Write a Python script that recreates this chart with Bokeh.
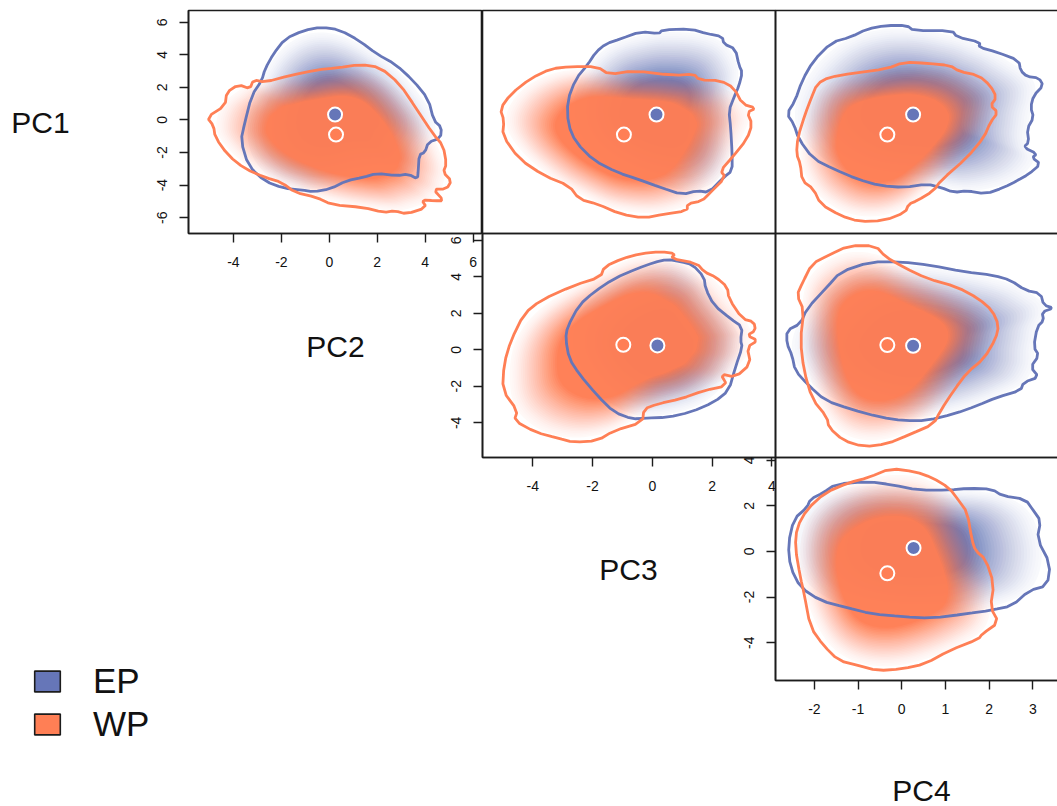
from bokeh.plotting import figure
from bokeh.models import Column, FixedTicker, Label, Legend, LegendItem
from bokeh.embed import file_html
from bokeh.resources import INLINE

# ---- outlines, (x, y) in axis units ----
ep_pc2_pc1 = [(-0.32,5.70),(0.44,5.53),(1.28,4.84),(1.97,4.06),(2.74,3.44),(3.50,2.42),(4.13,1.29),(4.36,-0.04),(4.68,-0.45),(4.64,-1.11),(4.13,-1.37),(3.99,-1.99),(3.75,-2.13),(3.71,-3.11),(3.68,-3.63),(3.29,-3.32),(2.81,-3.42),(1.97,-3.28),(1.42,-3.52),(0.72,-3.73),(0.03,-4.24),(-0.67,-4.41),(-1.15,-4.30),(-1.92,-4.18),(-2.68,-3.77),(-3.38,-2.81),(-3.69,-1.27),(-3.54,-0.25),(-3.24,1.50),(-2.82,2.42),(-2.68,3.14),(-2.33,4.06),(-1.85,4.98),(-1.08,5.49)]
wp_pc2_pc1 = [(-5.11,0.16),(-4.35,0.88),(-4.28,1.70),(-3.79,2.17),(-3.31,1.91),(-3.17,2.46),(-2.68,2.32),(-1.64,2.73),(-0.53,3.07),(0.31,3.20),(1.28,3.40),(2.11,3.24),(2.94,2.21),(3.64,0.68),(4.33,-0.86),(4.75,-1.58),(4.89,-2.70),(4.75,-3.22),(5.10,-3.73),(4.89,-4.24),(4.33,-4.24),(4.78,-4.96),(4.40,-4.96),(3.85,-4.90),(4.06,-5.37),(3.22,-5.78),(2.74,-5.57),(2.25,-5.68),(1.42,-5.37),(0.10,-5.20),(-0.53,-4.75),(-1.43,-4.45),(-1.99,-3.83),(-2.68,-3.52),(-3.51,-3.01),(-4.21,-2.19),(-4.76,-1.07),(-4.83,-0.35)]
ep_pc3_pc1 = [(-2.17,3.38),(-1.89,4.16),(-1.56,4.67),(-1.06,4.98),(-0.39,5.43),(0.22,5.29),(0.33,5.53),(1.28,5.59),(1.84,5.29),(2.34,5.12),(2.39,4.67),(2.78,4.36),(2.90,3.34),(3.01,2.93),(2.90,2.11),(2.73,1.39),(2.56,0.57),(2.62,-0.45),(2.67,-2.09),(2.67,-3.11),(2.39,-3.52),(1.89,-4.45),(1.50,-4.34),(1.00,-4.59),(0.28,-4.14),(-0.50,-3.63),(-1.17,-3.22),(-1.95,-2.50),(-2.56,-1.37),(-2.82,-0.25),(-2.84,1.19),(-2.56,2.52)]
wp_pc3_pc1 = [(-5.09,0.68),(-4.73,1.60),(-4.06,2.56),(-3.40,3.14),(-2.73,3.28),(-1.84,3.28),(-1.45,2.79),(-0.61,3.03),(0.72,2.73),(1.39,2.83),(1.56,2.46),(2.28,2.42),(2.73,1.97),(3.01,0.98),(3.47,0.72),(3.17,0.47),(3.34,-0.25),(3.17,-1.17),(2.67,-2.30),(2.28,-3.11),(2.45,-3.52),(1.89,-4.55),(1.67,-4.96),(1.17,-5.16),(1.17,-5.57),(0.39,-5.78),(-0.28,-6.02),(-1.06,-5.78),(-1.84,-5.16),(-2.45,-4.86),(-2.78,-4.04),(-3.62,-3.42),(-4.45,-2.40),(-5.01,-0.96),(-4.96,-0.04)]
ep_pc4_pc1 = [(-0.37,5.80),(0.12,5.80),(0.27,5.49),(1.15,5.49),(1.27,5.08),(1.80,4.77),(1.76,4.47),(2.18,4.16),(2.68,3.65),(2.72,3.03),(2.87,2.66),(3.14,2.58),(3.24,2.11),(3.02,1.50),(2.95,0.78),(3.02,0.16),(2.87,-0.55),(2.91,-1.37),(2.79,-1.68),(3.10,-2.09),(2.98,-2.30),(3.18,-2.70),(2.91,-3.32),(2.64,-3.73),(2.34,-4.14),(1.92,-4.55),(1.50,-4.34),(1.19,-4.45),(0.89,-4.14),(0.58,-3.93),(0.05,-4.14),(-0.49,-4.04),(-1.02,-3.63),(-1.56,-3.01),(-2.02,-2.40),(-2.36,-1.17),(-2.47,-0.25),(-2.63,0.37),(-2.44,1.19),(-2.28,2.42),(-2.02,3.65),(-1.60,4.77),(-1.18,5.08),(-0.79,5.59)]
wp_pc4_pc1 = [(0.05,3.55),(0.58,3.48),(1.11,3.34),(1.31,2.99),(1.76,2.73),(2.03,2.11),(2.17,1.39),(2.03,0.88),(2.20,0.47),(2.03,-0.14),(1.88,-1.07),(1.50,-2.30),(0.89,-3.73),(0.73,-4.34),(0.35,-4.96),(0.16,-5.16),(0.08,-5.68),(-0.41,-6.19),(-0.98,-6.23),(-1.40,-5.88),(-1.86,-5.16),(-2.02,-4.24),(-2.28,-3.73),(-2.32,-2.70),(-2.41,-2.09),(-2.38,-1.07),(-2.21,0.37),(-2.08,1.29),(-1.94,2.21),(-1.67,2.62),(-1.10,2.87),(-0.34,3.14)]
ep_pc3_pc2 = [(0.50,4.96),(0.95,4.82),(1.34,4.67),(1.73,3.99),(1.78,3.35),(2.06,2.44),(2.62,1.70),(3.01,1.25),(2.95,0.51),(3.01,0.15),(2.78,-0.95),(2.56,-2.23),(2.06,-2.88),(1.28,-3.42),(0.50,-3.70),(-0.22,-3.74),(-0.67,-3.79),(-1.28,-3.42),(-1.84,-2.51),(-2.45,-1.32),(-2.78,-0.49),(-2.90,0.60),(-2.84,1.25),(-2.45,2.44),(-1.95,3.17),(-1.28,3.90),(-0.50,4.45),(0.06,4.78)]
wp_pc3_pc2 = [(0.78,5.27),(0.61,5.00),(1.50,4.73),(1.73,4.27),(2.12,3.99),(2.51,3.44),(2.56,2.80),(3.01,1.70),(3.40,1.52),(3.45,1.06),(3.17,0.79),(3.53,0.51),(3.17,0.15),(3.29,-0.77),(2.78,-1.50),(2.28,-1.32),(2.51,-1.96),(1.73,-2.23),(0.95,-2.69),(0.17,-2.97),(-0.28,-3.24),(-0.33,-3.97),(-1.28,-4.43),(-1.84,-4.98),(-2.62,-5.07),(-3.17,-4.84),(-3.90,-4.52),(-4.62,-3.88),(-4.51,-3.33),(-5.01,-2.23),(-4.96,-0.77),(-4.73,0.51),(-4.29,1.98),(-3.73,2.71),(-2.62,3.53),(-1.73,3.99),(-1.61,4.54),(-1.00,5.00),(-0.39,5.27),(0.28,5.37)]
ep_pc4_pc2 = [(-0.72,4.82),(-0.03,4.82),(0.66,4.63),(1.42,4.27),(2.11,4.08),(2.49,3.81),(2.83,3.26),(3.18,3.08),(3.25,2.44),(3.48,2.29),(3.21,2.07),(3.25,1.61),(3.10,1.25),(3.02,0.15),(3.14,-0.31),(2.95,-0.95),(3.14,-1.50),(2.79,-1.78),(2.72,-2.23),(2.18,-2.60),(1.73,-3.06),(1.19,-3.52),(0.58,-3.88),(0.05,-3.88),(-0.49,-3.70),(-1.18,-3.24),(-1.75,-2.78),(-2.13,-1.96),(-2.44,-1.14),(-2.51,-0.31),(-2.63,0.33),(-2.63,1.06),(-2.32,1.43),(-2.17,2.25),(-1.71,3.44),(-1.40,4.27)]
wp_pc4_pc2 = [(-1.21,5.70),(-0.60,5.70),(-0.37,5.09),(0.05,4.51),(0.58,3.90),(1.27,3.44),(1.76,2.80),(2.07,2.16),(2.22,1.34),(2.15,0.60),(1.88,-0.49),(1.50,-1.23),(1.19,-2.23),(0.89,-3.33),(0.73,-4.07),(0.20,-4.62),(-0.34,-5.16),(-0.87,-5.31),(-1.33,-4.98),(-1.67,-4.25),(-1.71,-3.70),(-2.05,-2.69),(-2.24,-1.14),(-2.32,0.51),(-2.24,2.16),(-2.40,2.99),(-2.28,3.63),(-2.05,4.73),(-1.67,5.18)]
ep_pc4_pc3 = [(-1.52,2.95),(-0.76,3.07),(-0.22,2.92),(0.39,2.69),(1.08,2.69),(1.53,2.77),(2.07,2.73),(2.30,2.44),(2.83,2.29),(3.02,1.78),(3.18,1.34),(3.10,0.54),(3.40,-0.55),(3.33,-1.50),(2.91,-1.72),(2.53,-2.38),(2.07,-2.57),(1.46,-2.74),(0.69,-2.93),(0.01,-2.86),(-0.68,-2.74),(-1.29,-2.45),(-1.86,-2.16),(-2.32,-1.58),(-2.55,-0.70),(-2.60,0.32),(-2.47,1.42),(-2.17,1.93),(-2.09,2.29),(-1.79,2.58)]
wp_pc4_pc3 = [(-0.26,3.64),(0.31,3.50),(0.69,3.24),(1.08,2.80),(1.31,2.22),(1.50,1.71),(1.61,0.47),(1.69,0.03),(1.92,-0.34),(2.11,-1.43),(2.03,-2.45),(2.22,-3.11),(1.84,-3.62),(1.76,-3.84),(1.08,-4.35),(0.54,-4.93),(0.01,-5.15),(-0.56,-5.23),(-0.98,-5.01),(-1.44,-4.79),(-1.79,-4.13),(-2.09,-3.33),(-2.24,-1.80),(-2.32,-1.14),(-2.44,0.18),(-2.40,1.05),(-2.17,1.85),(-1.75,2.58),(-1.21,3.02),(-0.76,3.24)]

# group means, one per panel
ep_means = [(0.24,0.33),(0.14,0.33),(0.26,0.33),(0.17,0.24),(0.26,0.22),(0.27,0.15)]
wp_means = [(0.28,-0.90),(-0.95,-0.90),(-0.33,-0.90),(-0.97,0.27),(-0.33,0.26),(-0.33,-0.96)]

# axis ranges and ticks
pc1_range = (-6.97, 6.72)
pc2x_range = (-5.875, 6.35)
pc3x_range = (-5.68, 4.12)
pc4x_range = (-2.89, 3.84)
pc2y_range = (-5.90, 6.37)
pc3y_range = (-5.66, 4.12)
ticks_pc2x = [-4, -2, 0, 2, 4, 6]
ticks_pc1 = [-6, -4, -2, 0, 2, 4, 6]
ticks_pc3x = [-4, -2, 0, 2, 4]
ticks_pc2y = [-4, -2, 0, 2, 4, 6]
ticks_pc4x = [-2, -1, 0, 1, 2, 3]
ticks_pc3y = [-4, -2, 0, 2, 4]

axis_names = ["PC1", "PC2", "PC3", "PC4"]
axis_name_x = [40, 335, 628, 921]
axis_name_y = [122, 346, 569, 790]
legend_names = ["EP", "WP"]

EP = "#6676B8"
WP = "#FF7F55"
INK = "#1c1c1c"
FONT = "Liberation Sans"
W, H = 1057, 806
COLS = [(188.3, 481.7), (481.7, 775.0), (775.0, 1069.0)]
ROWS = [(10.0, 233.0), (233.0, 456.7), (456.7, 680.0)]
B = 60


def rounded(outline, passes=2):
    """Round the corners of a closed outline for drawing."""
    pts = outline
    for _ in range(passes):
        nxt = []
        for i, (x, y) in enumerate(pts):
            u, v = pts[(i + 1) % len(pts)]
            nxt.append((0.75 * x + 0.25 * u, 0.75 * y + 0.25 * v))
            nxt.append((0.25 * x + 0.75 * u, 0.25 * y + 0.75 * v))
        pts = nxt
    return pts


def softened(pts, reach=7):
    """Running mean along a closed outline, so the fade shows no rays."""
    n = len(pts)
    out = []
    for i in range(n):
        near = [pts[(i + d) % n] for d in range(-reach, reach + 1)]
        out.append((sum(a for a, _ in near) / len(near), sum(b for _, b in near) / len(near)))
    return out


def cloud(p, outline, mean, color, inner, top):
    """Layered fills that fade from the mean to the outline of a group."""
    n = 26
    prev = 0.0
    pts = softened(rounded(outline, 2))
    for k in range(n):
        s = 0.99 - (0.99 - inner) * k / (n - 1)
        o = top * (0.05 + 0.95 * (k / (n - 1)) ** 1.35)
        a = 1 - (1 - o) / (1 - prev)
        prev = o
        p.patch([mean[0] + s * (x - mean[0]) for x, _ in pts],
                [mean[1] + s * (y - mean[1]) for _, y in pts],
                fill_color=color, fill_alpha=a, line_color=None)


def panel(col, row, xr, yr, ep, wp, i, xticks=None, yticks=None):
    (x0, x1), (y0, y1) = COLS[col], ROWS[row]
    p = figure(width=round(x1 - x0) + 2 * B, height=round(y1 - y0) + 2 * B,
               x_range=xr, y_range=yr, output_backend="svg", toolbar_location=None,
               min_border_left=B, min_border_right=B, min_border_top=B, min_border_bottom=B,
               x_axis_location="below" if xticks else None,
               y_axis_location="left" if yticks else None,
               background_fill_color=None, border_fill_color=None,
               outline_line_color=INK, outline_line_width=1.6,
               styles={"position": "absolute", "left": f"{round(x0) - B}px", "top": f"{round(y0) - B}px"})
    p.grid.visible = False
    for ax, ticks in ((p.xaxis, xticks), (p.yaxis, yticks)):
        if ticks:
            ax.ticker = FixedTicker(ticks=ticks)
            ax.major_label_overrides = {t: str(t) for t in ticks}
            ax.major_tick_in = 0
            ax.major_tick_out = 9
            ax.minor_tick_line_color = None
            ax.major_tick_line_color = INK
            ax.major_tick_line_width = 1.4
            ax.axis_line_color = INK
            ax.axis_line_width = 1.6
            ax.major_label_text_font = FONT
            ax.major_label_text_font_size = "14px"
            ax.major_label_text_color = "#111111"
    if xticks:
        p.xaxis.major_label_standoff = 14
    if yticks:
        p.yaxis.major_label_orientation = "vertical"
        p.yaxis.major_label_standoff = 12
    cloud(p, ep, ep_means[i], EP, 0.42, 0.95)
    cloud(p, wp, wp_means[i], WP, 0.58, 0.97)
    el, wl = rounded(ep, 1), rounded(wp, 1)
    p.patch([a for a, _ in el], [b for _, b in el], fill_alpha=0, line_color=EP, line_width=2.8)
    p.patch([a for a, _ in wl], [b for _, b in wl], fill_alpha=0, line_color=WP, line_width=2.8)
    for m, c in ((ep_means[i], EP), (wp_means[i], WP)):
        p.scatter([m[0]], [m[1]], size=14, fill_color=c, line_color="white", line_width=2)
    return p


def sheet(origin=0):
    # a column lines up its frames, so this frame spans W minus the panels' two borders
    s = figure(width=W + 2 * B, height=H, x_range=(origin, origin + W - 2 * B), y_range=(H, 0),
               output_backend="svg", toolbar_location=None, x_axis_location=None, y_axis_location=None,
               min_border_left=B, min_border_right=B, min_border_top=0, min_border_bottom=0,
               background_fill_color=None, border_fill_color=None, outline_line_color=None,
               styles={"position": "absolute", "left": f"{origin - B}px", "top": "0px"})
    s.grid.visible = False
    return s


names = sheet(0)
names_far = sheet(400)   # the last name lies beyond the first sheet's frame
for t, x, y in zip(axis_names, axis_name_x, axis_name_y):
    target = names_far if x > 800 else names
    target.add_layout(Label(x=x, y=y, text=t, text_align="center", text_baseline="middle",
                            text_font=FONT, text_font_size="30px", text_color="#111111"))

keys = sheet(0)
# legend keys: off-canvas proxies, only their swatches show
r_ep = keys.patch([-9, -8, -8], [-9, -9, -8], fill_color=EP, line_color=INK, line_width=1.6)
r_wp = keys.patch([-9, -8, -8], [-9, -9, -8], fill_color=WP, line_color=INK, line_width=1.6)
legend = Legend(items=[LegendItem(label=legend_names[0], renderers=[r_ep]),
                       LegendItem(label=legend_names[1], renderers=[r_wp])],
                location=(31, 62), orientation="vertical",
                glyph_width=32, glyph_height=26, label_height=26, label_width=20,
                label_standoff=30, spacing=3, padding=0, margin=0,
                background_fill_alpha=0, border_line_color=None,
                label_text_font=FONT, label_text_font_size="35px", label_text_color="#111111",
                label_text_baseline="middle")
keys.add_layout(legend)

panels = [
    panel(0, 0, pc2x_range, pc1_range, ep_pc2_pc1, wp_pc2_pc1, 0, ticks_pc2x, ticks_pc1),
    panel(1, 0, pc3x_range, pc1_range, ep_pc3_pc1, wp_pc3_pc1, 1),
    panel(2, 0, pc4x_range, pc1_range, ep_pc4_pc1, wp_pc4_pc1, 2),
    panel(1, 1, pc3x_range, pc2y_range, ep_pc3_pc2, wp_pc3_pc2, 3, ticks_pc3x, ticks_pc2y),
    panel(2, 1, pc4x_range, pc2y_range, ep_pc4_pc2, wp_pc4_pc2, 4),
    panel(2, 2, pc4x_range, pc3y_range, ep_pc4_pc3, wp_pc4_pc3, 5, ticks_pc4x, ticks_pc3y),
]

root = Column(children=[names, names_far, keys] + panels, width=W, height=H,
              styles={"position": "relative", "overflow": "hidden"})
open("out.html", "w").write(file_html(root, INLINE))
